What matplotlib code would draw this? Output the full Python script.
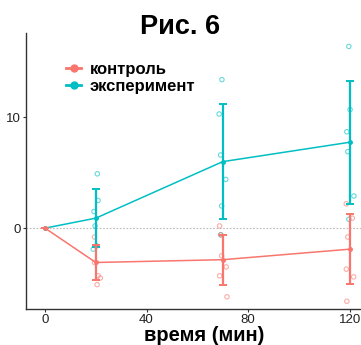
import numpy as np
import matplotlib.pyplot as plt
from matplotlib.lines import Line2D

plt.rcParams['font.family'] = ['Liberation Sans', 'DejaVu Sans']

# средние значения и разброс
times = [0, 20, 70, 120]
ctrl_mean = [0, -3.1, -2.85, -1.9]
ctrl_err = [0, 1.6, 2.25, 3.15]
exp_mean = [0, 0.9, 6.0, 7.75]
exp_err = [0, 2.6, 5.2, 5.55]

# отдельные наблюдения (x с небольшим разбросом)
ctrl_pts_x = [19.5, 20.2, 19.5, 20.9, 21.8, 20.5,
              68.8, 69.2, 69.6, 71.4, 68.8, 71.7,
              118.7, 121.1, 119.3, 118.7, 121.6, 118.9]
ctrl_pts_y = [-0.8, -1.6, -3.1, -4.3, -4.5, -5.1,
              0.2, -0.6, -2.5, -3.5, -4.3, -6.2,
              2.2, 0.9, -0.8, -3.7, -4.4, -6.6]
exp_pts_x = [20.6, 20.9, 19.3, 19.7, 20.3, 19.0,
             69.7, 68.6, 69.2, 71.2, 69.6, 69.3,
             119.7, 120.2, 118.9, 119.3, 121.7, 119.7]
exp_pts_y = [4.9, 2.5, 1.5, 0.2, -1.6, -1.9,
             13.4, 10.3, 6.6, 4.4, 2.0, -0.6,
             16.4, 10.7, 8.7, 6.9, 2.9, 0.8]

c_ctrl = '#F8766D'
c_exp = '#00BFC4'

fig = plt.figure(figsize=(3.61, 3.45), dpi=100)
ax = fig.add_axes([0.072, 0.1043, 0.928, 0.7997])

ax.axhline(0, color='#bbbbbb', lw=0.8, ls=(0, (1.5, 1.5)), zorder=1)

ax.scatter(exp_pts_x, exp_pts_y, s=10, facecolors='none', edgecolors=c_exp,
           linewidths=0.8, alpha=0.6, zorder=2)
ax.scatter(ctrl_pts_x, ctrl_pts_y, s=10, facecolors='none', edgecolors=c_ctrl,
           linewidths=0.8, alpha=0.6, zorder=2)

ax.errorbar(times, exp_mean, yerr=exp_err, color=c_exp, lw=1.1, elinewidth=1.6,
            capsize=3, capthick=1.4, marker='o', ms=2.5, zorder=3)
ax.errorbar(times, ctrl_mean, yerr=ctrl_err, color=c_ctrl, lw=1.1, elinewidth=1.6,
            capsize=3, capthick=1.4, marker='o', ms=2.5, zorder=4)

ax.set_xlim(-7.5, 124.5)
ax.set_ylim(-7.3, 17.6)
ax.set_xticks([0, 40, 80, 120])
ax.set_yticks([0, 10])
ax.tick_params(labelsize=9.5, length=2, pad=1.5, colors='#333333', labelcolor='#222222')
for s in ['top', 'right']:
    ax.spines[s].set_visible(False)
for s in ['left', 'bottom']:
    ax.spines[s].set_color('#333333')
    ax.spines[s].set_linewidth(1.0)

handles = [Line2D([], [], color=c_ctrl, lw=2, marker='o', ms=5),
           Line2D([], [], color=c_exp, lw=2, marker='o', ms=5)]
ax.legend(handles, ['контроль', 'эксперимент'], loc='upper left',
          bbox_to_anchor=(0.1, 0.92), frameon=False,
          prop={'size': 12, 'weight': 'bold'},
          handlelength=0.9, handletextpad=0.5, labelspacing=0.1, borderaxespad=0)

fig.text(204 / 361, 1 - 341 / 345, 'время (мин)', ha='center', va='baseline',
         fontsize=14.5, fontweight='bold')
fig.text(0.5, 1 - 34 / 345, 'Рис. 6', ha='center', va='baseline',
         fontsize=19.5, fontweight='bold')

plt.savefig('out.png', dpi=100)
